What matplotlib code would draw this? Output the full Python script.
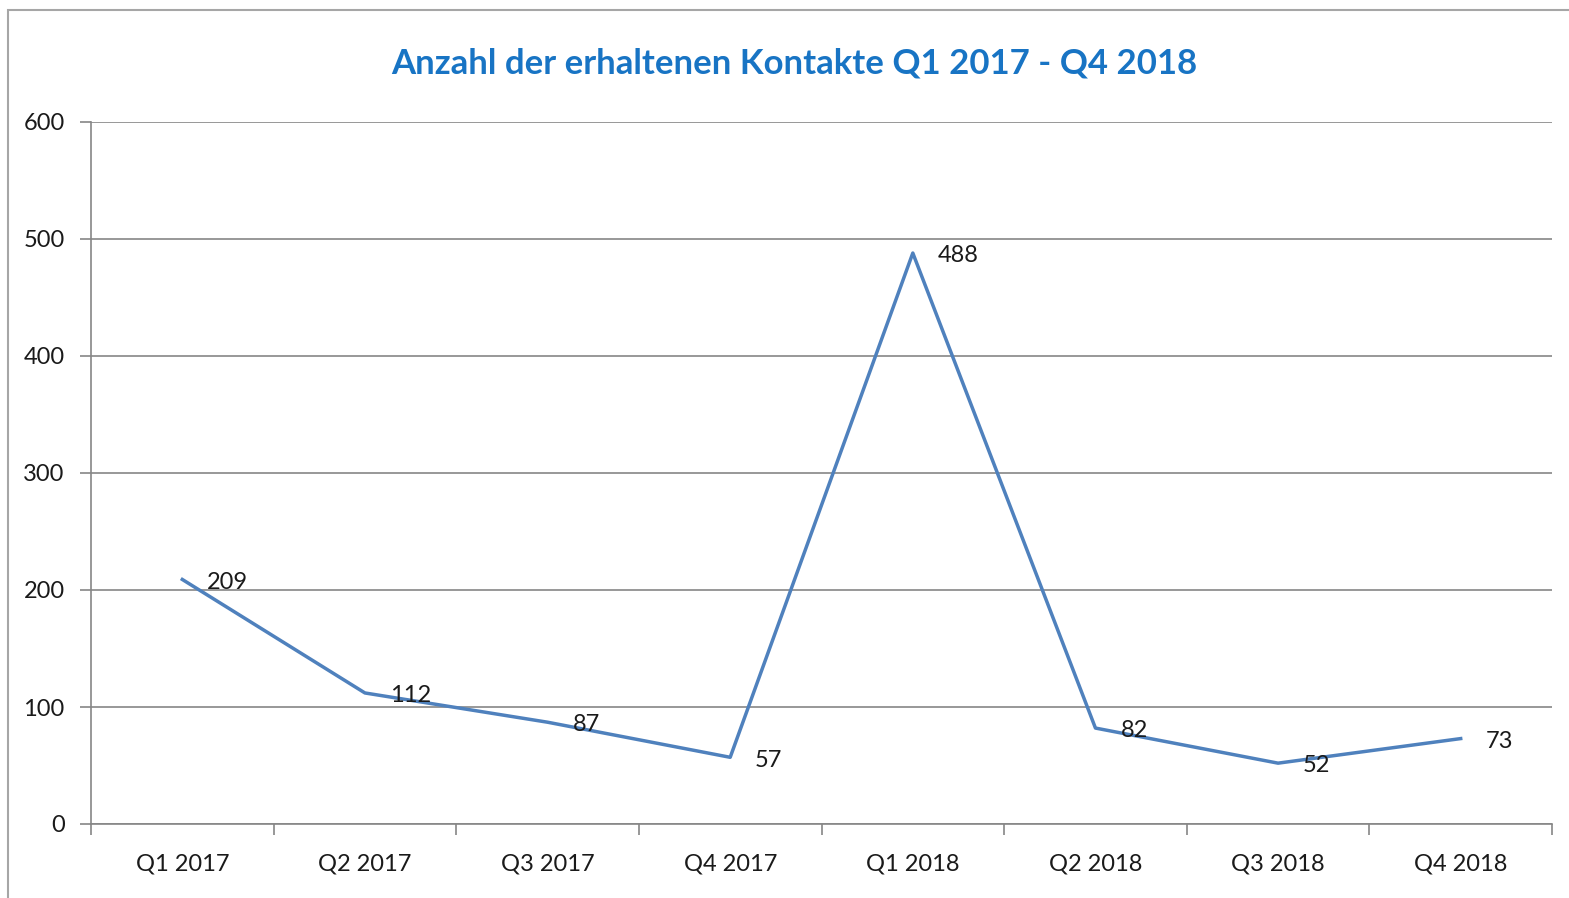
import matplotlib.pyplot as plt
from matplotlib.patches import Rectangle
import numpy as np

# Anzahl der erhaltenen Kontakte pro Quartal
quarters = ['Q1 2017', 'Q2 2017', 'Q3 2017', 'Q4 2017',
            'Q1 2018', 'Q2 2018', 'Q3 2018', 'Q4 2018']
contacts = [209, 112, 87, 57, 488, 82, 52, 73]
yticks = [0, 100, 200, 300, 400, 500, 600]

plt.rcParams['font.family'] = ['Lato', 'DejaVu Sans']

fig = plt.figure(figsize=(15.69, 8.98), dpi=100)
ax = fig.add_axes([91/1569, 1-824/898, (1552-91)/1569, (824-122)/898])

# Rahmen des Diagramms
fig.patches.append(Rectangle((8/1569, -0.1), 1.2, 1-10/898+0.1, transform=fig.transFigure,
                             fill=False, edgecolor='#a6a6a6', lw=1.5))

x = np.arange(len(quarters))
ax.plot(x, contacts, color='#4f81bd', lw=2.5)
for xi, v in zip(x, contacts):
    ax.annotate(str(v), (xi, v), xytext=(18, -2), textcoords='offset points',
                ha='left', va='center', fontsize=17, color='#1a1a1a')

ax.set_xlim(-0.5, len(quarters) - 0.5)
ax.set_ylim(0, 600)
ax.set_yticks(yticks)
ax.grid(axis='y', color='#868686', lw=1.2)
ax.set_axisbelow(True)

ax.set_xticks(x)
ax.set_xticklabels(quarters, fontsize=17, color='#1a1a1a')
ax.set_xticks(np.arange(len(quarters) + 1) - 0.5, minor=True)
ax.tick_params(axis='x', which='major', length=0, pad=21)
ax.tick_params(axis='x', which='minor', length=8, direction='out', color='#868686', width=1.2)
ax.tick_params(axis='y', length=8, color='#868686', width=1.2, labelsize=17,
               labelcolor='#1a1a1a', pad=11)

for s in ['top', 'right']:
    ax.spines[s].set_visible(False)
for s in ['left', 'bottom']:
    ax.spines[s].set_color('#868686')
    ax.spines[s].set_linewidth(1.2)

fig.text(794/1569, 1-63/898, 'Anzahl der erhaltenen Kontakte Q1 2017 - Q4 2018',
         ha='center', va='center', fontsize=25, fontweight='bold', color='#1874c4')

plt.savefig('out.png', dpi=100)
